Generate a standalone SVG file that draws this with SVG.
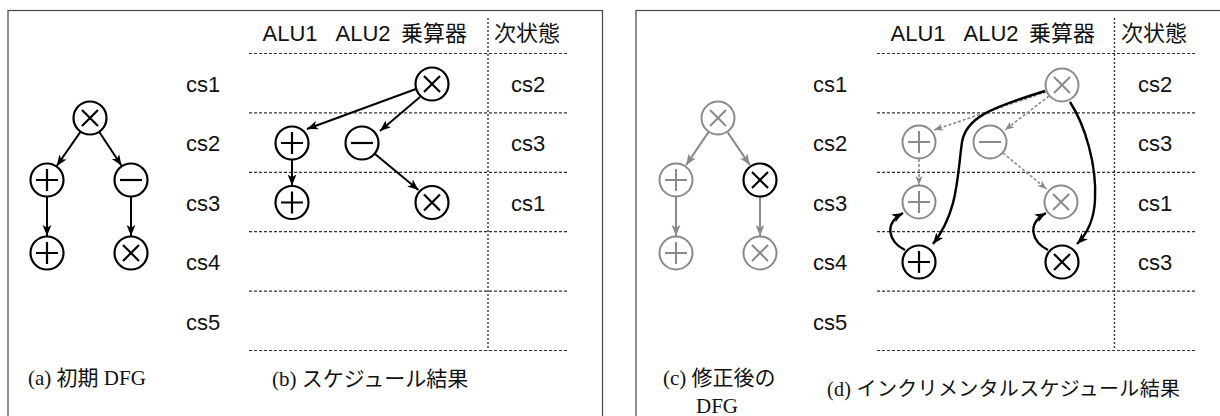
<svg xmlns="http://www.w3.org/2000/svg" xmlns:xlink="http://www.w3.org/1999/xlink" width="1220" height="416" viewBox="0 0 1220 416">
<style>
.panel{fill:none;stroke:#444;stroke-width:1.2}
.sans{font-family:"Liberation Sans","Noto Sans CJK JP",sans-serif;font-size:22px;fill:#111}
.serif{font-family:"Liberation Serif","Noto Sans CJK JP",serif;font-size:21px;fill:#111}
.mid{text-anchor:middle}
.grid{stroke:#333;stroke-width:1.2;stroke-dasharray:3 2;fill:none}
.vgrid{stroke:#333;stroke-width:1.4;stroke-dasharray:2 2;fill:none}
.blk{fill:#fff;stroke:#000;stroke-width:2.2}
.gry{fill:#fff;stroke:#8a8a8a;stroke-width:2}
.ab{stroke:#000;stroke-width:2;fill:none;marker-end:url(#hb)}
.ag{stroke:#8a8a8a;stroke-width:2;fill:none;marker-end:url(#hg)}
.agd{stroke:#8a8a8a;stroke-width:1.6;fill:none;stroke-dasharray:3 2;marker-end:url(#hgs)}
.cb{stroke:#000;stroke-width:2.4;fill:none;marker-end:url(#hb)}
</style>
<defs>
<marker id="hb" markerUnits="userSpaceOnUse" markerWidth="11" markerHeight="11" viewBox="0 0 10 10" refX="10" refY="5" orient="auto"><path d="M0,1 L10,5 L0,9 L2.5,5 z" fill="#000"/></marker>
<marker id="hg" markerUnits="userSpaceOnUse" markerWidth="11" markerHeight="11" viewBox="0 0 10 10" refX="10" refY="5" orient="auto"><path d="M0,1 L10,5 L0,9 L2.5,5 z" fill="#8a8a8a"/></marker>
<marker id="hgs" markerUnits="userSpaceOnUse" markerWidth="9" markerHeight="9" viewBox="0 0 10 10" refX="10" refY="5" orient="auto"><path d="M0,1 L10,5 L0,9 L2.5,5 z" fill="#8a8a8a"/></marker>
<g id="opAdd"><circle r="16.5"/><path d="M-11,0H11M0,-11V11"/></g>
<g id="opSub"><circle r="16.5"/><path d="M-11,0H11"/></g>
<g id="opMul"><circle r="16.5"/><path d="M-8,-8L8,8M8,-8L-8,8"/></g>
</defs>

<rect class="panel" x="8" y="10.5" width="594.5" height="420"/>
<rect class="panel" x="636" y="10.5" width="600" height="420"/>

<g id="grid-b">
<path class="grid" d="M249,53.5H568M249,112.9H568M249,172.3H568M249,231.7H568M249,291.1H568M249,350.5H568"/>
<path class="vgrid" d="M488,18V350.5"/>
</g>
<g id="grid-d">
<path class="grid" d="M877,53.5H1196M877,112.9H1196M877,172.3H1196M877,231.7H1196M877,291.1H1196M877,350.5H1196"/>
<path class="vgrid" d="M1114.5,18V350.5"/>
</g>

<g id="labels-b" class="sans">
<text class="mid" x="290" y="41">ALU1</text>
<text class="mid" x="363" y="41">ALU2</text>
<text class="mid" x="434" y="41">乗算器</text>
<text class="mid" x="527" y="41">次状態</text>
<text class="mid" x="203" y="91.5">cs1</text>
<text class="mid" x="203" y="151">cs2</text>
<text class="mid" x="203" y="210.5">cs3</text>
<text class="mid" x="203" y="270">cs4</text>
<text class="mid" x="203" y="329.5">cs5</text>
<text class="mid" x="528" y="91.5">cs2</text>
<text class="mid" x="528" y="151">cs3</text>
<text class="mid" x="528" y="210.5">cs1</text>
</g>
<g id="labels-d" class="sans">
<text class="mid" x="918" y="41">ALU1</text>
<text class="mid" x="991" y="41">ALU2</text>
<text class="mid" x="1062" y="41">乗算器</text>
<text class="mid" x="1154" y="41">次状態</text>
<text class="mid" x="830" y="91.5">cs1</text>
<text class="mid" x="830" y="151">cs2</text>
<text class="mid" x="830" y="210.5">cs3</text>
<text class="mid" x="830" y="270">cs4</text>
<text class="mid" x="830" y="329.5">cs5</text>
<text class="mid" x="1155" y="91.5">cs2</text>
<text class="mid" x="1155" y="151">cs3</text>
<text class="mid" x="1155" y="210.5">cs1</text>
<text class="mid" x="1155" y="270">cs3</text>
</g>

<g id="captions" class="serif">
<text x="28" y="385">(a) 初期 DFG</text>
<text x="272" y="386">(b) スケジュール結果</text>
<text x="663" y="385">(c) 修正後の</text>
<text class="mid" x="717" y="413">DFG</text>
<text x="827" y="396" style="font-size:20px" textLength="353" lengthAdjust="spacing">(d) インクリメンタルスケジュール結果</text>
</g>

<g id="connectors">
<path class="ab" d="M80.6,131.6L56.7,166"/>
<path class="ab" d="M99.1,131.8L121.6,165.8"/>
<path class="ab" d="M47,196.5V236"/>
<path class="ab" d="M131,196.5V236"/>

<path class="ab" d="M416,89L307,129"/>
<path class="ab" d="M420,97L380,131"/>
<path class="ab" d="M375,154L418.5,190"/>
<path class="ab" d="M292,160V185.5"/>

<path class="ag" d="M708.5,132.1L686.1,165.1"/>
<path class="ag" d="M727.5,132.1L749.9,165.1"/>
<path class="ag" d="M676,196.5V236"/>
<path class="ag" d="M760,196.5V236"/>

<path class="agd" d="M1046,92L934,130"/>
<path class="agd" d="M1049,96L1005,130"/>
<path class="agd" d="M1003,153L1046.5,189"/>
<path class="agd" d="M919,159V185"/>

<path class="cb" d="M1045,91C990,108 966,118 962,142C957,178 958,212 933,244"/>
<path class="cb" d="M1070,102C1085,125 1097,165 1095,200C1094,220 1088,233 1077,244"/>
<path class="cb" d="M905,250C889,242 883,224 903,213"/>
<path class="cb" d="M1048,250C1032,242 1026,224 1046,213"/>
</g>

<g id="a-mul1" class="blk"><use xlink:href="#opMul" x="90" y="118"/></g>
<g id="a-add1" class="blk"><use xlink:href="#opAdd" x="47" y="180"/></g>
<g id="a-sub1" class="blk"><use xlink:href="#opSub" x="131" y="180"/></g>
<g id="a-add2" class="blk"><use xlink:href="#opAdd" x="47" y="253"/></g>
<g id="a-mul2" class="blk"><use xlink:href="#opMul" x="131" y="253"/></g>

<g id="b-mul1" class="blk"><use xlink:href="#opMul" x="432" y="84"/></g>
<g id="b-add1" class="blk"><use xlink:href="#opAdd" x="292" y="143"/></g>
<g id="b-sub1" class="blk"><use xlink:href="#opSub" x="362" y="143"/></g>
<g id="b-add2" class="blk"><use xlink:href="#opAdd" x="292" y="202.5"/></g>
<g id="b-mul2" class="blk"><use xlink:href="#opMul" x="432" y="202.5"/></g>

<g id="c-mul1" class="gry"><use xlink:href="#opMul" x="718" y="118"/></g>
<g id="c-add1" class="gry"><use xlink:href="#opAdd" x="676" y="180"/></g>
<g id="c-mul3" class="blk"><use xlink:href="#opMul" x="760" y="180"/></g>
<g id="c-add2" class="gry"><use xlink:href="#opAdd" x="676" y="253"/></g>
<g id="c-mul2" class="gry"><use xlink:href="#opMul" x="760" y="253"/></g>

<g id="d-mul1" class="gry"><use xlink:href="#opMul" x="1062" y="85"/></g>
<g id="d-add1" class="gry"><use xlink:href="#opAdd" x="919" y="142"/></g>
<g id="d-sub1" class="gry"><use xlink:href="#opSub" x="990" y="142"/></g>
<g id="d-add2" class="gry"><use xlink:href="#opAdd" x="919" y="202"/></g>
<g id="d-mul2" class="gry"><use xlink:href="#opMul" x="1061" y="202"/></g>
<g id="d-add3" class="blk"><use xlink:href="#opAdd" x="919" y="262"/></g>
<g id="d-mul3" class="blk"><use xlink:href="#opMul" x="1062" y="262"/></g>
</svg>
